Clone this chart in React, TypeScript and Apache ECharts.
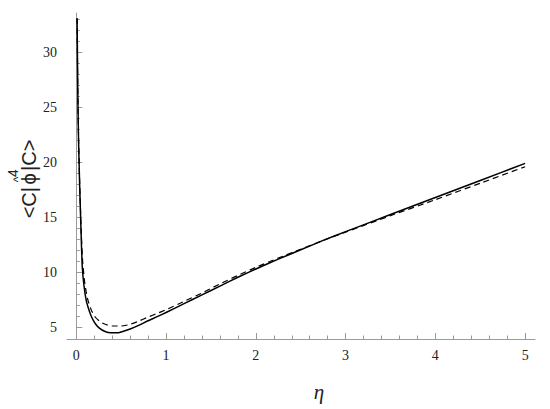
import React, { useEffect, useRef } from "react";
import * as echarts from "echarts";

// eta values and expectation values
const etaSolid = [0.008, 0.011, 0.015, 0.019, 0.025, 0.03, 0.037, 0.044, 0.055, 0.066, 0.085, 0.11, 0.14, 0.17, 0.21, 0.26, 0.32, 0.38, 0.45, 0.5, 0.6, 0.7, 0.8, 0.9, 1.0, 1.2, 1.4, 1.6, 1.8, 2.0, 2.25, 2.5, 2.75, 3.0, 3.5, 4.0, 4.5, 5.0];
const valSolid = [33.1, 30.8, 27.3, 24.7, 21.8, 20.2, 17.9, 16.0, 13.0, 10.5, 8.8, 7.45, 6.6, 5.94, 5.35, 4.9, 4.62, 4.5, 4.5, 4.58, 4.85, 5.2, 5.6, 5.97, 6.35, 7.15, 7.95, 8.75, 9.55, 10.3, 11.2, 12.05, 12.9, 13.7, 15.25, 16.8, 18.35, 19.9];

const etaDashed = [0.008, 0.011, 0.015, 0.019, 0.025, 0.03, 0.037, 0.044, 0.055, 0.07, 0.09, 0.11, 0.13, 0.17, 0.21, 0.26, 0.3, 0.35, 0.4, 0.5, 0.6, 0.7, 0.8, 0.9, 1.0, 1.2, 1.4, 1.6, 1.8, 2.0, 2.25, 2.5, 2.75, 3.0, 3.5, 4.0, 4.5, 5.0];
const valDashed = [33.1, 30.8, 27.4, 24.8, 22.0, 20.4, 18.2, 16.3, 13.6, 11.0, 9.3, 8.2, 7.45, 6.5, 5.94, 5.55, 5.35, 5.2, 5.12, 5.12, 5.27, 5.58, 5.94, 6.26, 6.6, 7.36, 8.12, 8.95, 9.72, 10.45, 11.3, 12.1, 12.9, 13.65, 15.15, 16.6, 18.1, 19.6];

const xMajorTicks = [0, 1, 2, 3, 4, 5];
const xMinorTicks = [0.2, 0.4, 0.6, 0.8, 1.2, 1.4, 1.6, 1.8, 2.2, 2.4, 2.6, 2.8, 3.2, 3.4, 3.6, 3.8, 4.2, 4.4, 4.6, 4.8];
const yMajorTicks = [5, 10, 15, 20, 25, 30];
const yMinorTicks = [6, 7, 8, 9, 11, 12, 13, 14, 16, 17, 18, 19, 21, 22, 23, 24, 26, 27, 28, 29, 31, 32, 33];

const X_MIN = -0.104;
const X_MAX = 5.11;
const Y_MIN = 3.94;
const Y_MAX = 33.57;

const axisColor = "#9a9a9a";
const labelFont = "serif";
const nameFont = "'Liberation Sans', Arial, sans-serif";

export default function App() {
  const ref = useRef<HTMLDivElement>(null);

  useEffect(() => {
    if (!ref.current) return;
    const chart = echarts.init(ref.current, null, { renderer: "svg" });
    const solid = etaSolid.map((e, i) => [e, valSolid[i]]);
    const dashed = etaDashed.map((e, i) => [e, valDashed[i]]);

    const baseX = {
      type: "value" as const,
      min: X_MIN,
      max: X_MAX,
      position: "bottom" as const,
      splitLine: { show: false },
    };
    const baseY = {
      type: "value" as const,
      min: Y_MIN,
      max: Y_MAX,
      position: "left" as const,
      splitLine: { show: false },
    };

    chart.setOption({
      animation: false,
      backgroundColor: "#ffffff",
      grid: { left: 67, right: 15, top: 13, bottom: 70, containLabel: false },
      xAxis: [
        {
          ...baseX,
          axisLine: { show: true, lineStyle: { color: axisColor, width: 1 } },
          axisTick: {
            show: true,
            inside: true,
            length: 6,
            customValues: xMajorTicks,
            lineStyle: { color: axisColor },
          },
          axisLabel: {
            show: true,
            customValues: xMajorTicks,
            margin: 9,
            color: "#222",
            fontFamily: labelFont,
            fontSize: 14,
          },
        },
        {
          ...baseX,
          axisLine: { show: false },
          axisTick: {
            show: true,
            inside: true,
            length: 3.5,
            customValues: xMinorTicks,
            lineStyle: { color: axisColor },
          },
          axisLabel: { show: false },
        },
      ],
      yAxis: [
        {
          ...baseY,
          axisLine: { show: true, lineStyle: { color: axisColor, width: 1 } },
          axisTick: {
            show: true,
            inside: true,
            length: 6,
            customValues: yMajorTicks,
            lineStyle: { color: axisColor },
          },
          axisLabel: {
            show: true,
            customValues: yMajorTicks,
            margin: 10,
            color: "#222",
            fontFamily: labelFont,
            fontSize: 14,
          },
        },
        {
          ...baseY,
          axisLine: { show: false },
          axisTick: {
            show: true,
            inside: true,
            length: 3.5,
            customValues: yMinorTicks,
            lineStyle: { color: axisColor },
          },
          axisLabel: { show: false },
        },
      ],
      series: [
        {
          type: "line",
          xAxisIndex: 0,
          yAxisIndex: 0,
          data: solid,
          showSymbol: false,
          symbol: "none",
          smooth: 0.15,
          lineStyle: { color: "#000", width: 1.5, join: "round" },
        },
        {
          type: "line",
          xAxisIndex: 0,
          yAxisIndex: 0,
          data: dashed,
          showSymbol: false,
          symbol: "none",
          smooth: 0.15,
          lineStyle: { color: "#000", width: 1.2, type: [6, 4], join: "round" },
        },
      ],
      graphic: [
        {
          type: "text",
          x: 319,
          y: 392,
          style: {
            text: "η",
            font: `italic 21px ${labelFont}`,
            fill: "#222",
            align: "center",
            verticalAlign: "middle",
          },
        },
        {
          type: "group",
          x: 28.5,
          y: 180,
          rotation: Math.PI / 2,
          children: [
            {
              type: "text",
              x: -7,
              y: 0,
              style: { text: "<C|", font: `20px ${nameFont}`, fill: "#222", align: "right", verticalAlign: "middle" },
            },
            {
              type: "text",
              x: 1,
              y: 0,
              style: { text: "ϕ", font: `20px ${nameFont}`, fill: "#222", align: "center", verticalAlign: "middle" },
            },
            {
              type: "text",
              x: 0.5,
              y: -11,
              style: { text: "^", font: `12px ${nameFont}`, fill: "#222", align: "center", verticalAlign: "middle" },
            },
            {
              type: "text",
              x: 7,
              y: -16,
              style: { text: "4", font: `14px ${nameFont}`, fill: "#222", align: "center", verticalAlign: "middle" },
            },
            {
              type: "text",
              x: 9,
              y: 0,
              style: { text: "|C>", font: `20px ${nameFont}`, fill: "#222", align: "left", verticalAlign: "middle" },
            },
          ],
        },
      ],
    });
    return () => chart.dispose();
  }, []);

  return (
    <div
      ref={ref}
      style={{ position: "absolute", left: 0, top: 0, width: 550, height: 409 }}
    />
  );
}
